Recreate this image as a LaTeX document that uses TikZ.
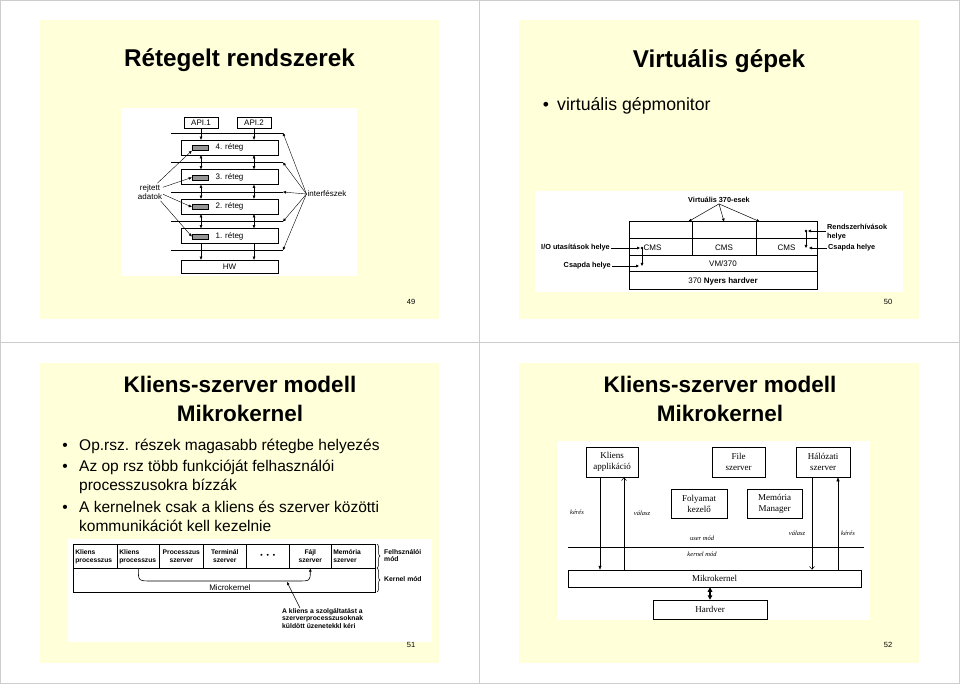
\documentclass[tikz,border=0pt]{standalone}
\usepackage{fontspec}
\setmainfont{Liberation Sans}
\newfontfamily\serifrm{Liberation Serif}
\usetikzlibrary{arrows.meta,positioning,decorations.pathreplacing}

\definecolor{slidebg}{RGB}{255,255,218}
\definecolor{pagerule}{RGB}{205,205,205}
\definecolor{hiddengray}{RGB}{150,150,150}
\newcommand{\fsz}[2]{\fontsize{#1}{#2}\selectfont}

\begin{document}
\begin{tikzpicture}[x=1pt,y=-1pt,
  >={Triangle[length=3pt,width=2.6pt]},
  slidetitle/.style={font=\fsz{24.3}{28}\bfseries,inner sep=0pt,anchor=base},
  bullettext/.style={font=\fsz{15.5}{19},inner sep=0pt,anchor=base west},
  bulletdot/.style={font=\fsz{15.5}{19},inner sep=0pt,anchor=base},
  pagenum/.style={font=\fsz{7.5}{9}},
  layerbox/.style={draw,line width=0.6pt,inner sep=0pt,font=\fsz{8}{10}},
  hiddenbox/.style={draw,line width=0.5pt,fill=hiddengray,minimum width=16,minimum height=5,inner sep=0pt},
  annot/.style={font=\fsz{8}{9.5},align=center,inner sep=1pt},
  vmcell/.style={draw,line width=1pt,inner sep=0pt,font=\fsz{8}{10}},
  vmlbl/.style={font=\fsz{7.3}{9}\bfseries,inner sep=1pt,align=left},
  ucell/.style={draw,line width=0.6pt,inner xsep=2pt,inner ysep=0pt,minimum height=24,anchor=north west,align=left,font=\fsz{6.7}{8}\bfseries},
  servbox/.style={draw,line width=0.5pt,inner sep=0pt,align=center,font=\serifrm\fsz{9}{11}},
  itlbl/.style={font=\serifrm\itshape\fsz{6.5}{8},inner sep=0pt},
  openarrow/.style={-{Straight Barb[length=3pt,width=5pt]}},
]
\useasboundingbox (0,0) rectangle (960,684);

% page grid
\draw[pagerule,line width=1pt] (0.5,0.5) rectangle (959.5,683.5);
\draw[pagerule,line width=1pt] (479,0) -- (479,684) (0,342) -- (960,342);

%%%%% slide 49
\fill[slidebg] (40,20) rectangle (439,319);
\node[slidetitle] (t49) at (239.5,67) {Rétegelt rendszerek};
\fill[white] (121,108) rectangle (357,276);

\node[layerbox,minimum width=34,minimum height=11] (api1) at (201,122.5) {API.1};
\node[layerbox,minimum width=34,minimum height=11] (api2) at (254,122.5) {API.2};
\foreach \i/\y in {4/147.5,3/177,2/206.5,1/236}{
  \node[layerbox,minimum width=97,minimum height=15] (l\i) at (229.5,\y) {\i. réteg};
  \node[hiddenbox] (g\i) at (200,\y+0.5) {};
}
\node[layerbox,minimum width=97,minimum height=13] (hw) at (229.5,266.5) {HW};

% interfaces
\foreach \k/\y in {5/133,4/162.5,3/192,2/221.5,1/250}{
  \coordinate (if\k) at (283,\y);
  \draw[line width=0.6pt] (171,\y) -- (if\k);
}
\foreach \a in {api1,api2}{
  \draw[->,line width=0.5pt] (\a) -- (l4.north -| \a);
  \draw[<->,line width=0.5pt] (l4.south -| \a) -- (l3.north -| \a);
  \draw[<->,line width=0.5pt] (l3.south -| \a) -- (l2.north -| \a);
  \draw[<->,line width=0.5pt] (l2.south -| \a) -- (l1.north -| \a);
  \draw[->,line width=0.5pt] (l1.south -| \a) -- (hw.north -| \a);
}

\node[annot] (rejt) at (150,192) {rejtett\\adatok};
\draw[->,line width=0.4pt] (rejt.50) -- (g4.south west);
\draw[->,line width=0.4pt] (rejt.20) -- (g3.west);
\draw[->,line width=0.4pt] (rejt.-10) -- (g2.west);
\draw[->,line width=0.4pt] (rejt.-40) -- (g1.west);

\node[annot] (intf) at (327,194) {interfészek};
\foreach \k in {1,...,5}
  \draw[->,line width=0.4pt] (intf.west) -- (if\k);

\node[pagenum] (n49) at (411,302) {49};

%%%%% slide 50
\fill[slidebg] (519,20) rectangle (919,319);
\node[slidetitle] (t50) at (719,67.5) {Virtuális gépek};
\node[bulletdot,font=\fsz{17.5}{21}] (d50) at (546,110.5) {•};
\node[bullettext,font=\fsz{17.7}{21}] (b50) at (557,110.5) {virtuális gépmonitor};
\fill[white] (535,191) rectangle (903,292);

\foreach \j/\x/\w in {1/660.5/63,2/724/64,3/786.5/61}
  \node[vmcell,minimum width=\w,minimum height=17] (v\j) at (\x,230.5) {};
\node[vmcell,minimum width=63,minimum height=17,label={[xshift=-8pt,font=\fsz{8}{10}]center:CMS}] (c1) at (660.5,247.5) {};
\node[vmcell,minimum width=64,minimum height=17] (c2) at (724,247.5) {CMS};
\node[vmcell,minimum width=61,minimum height=17] (c3) at (786.5,247.5) {CMS};
\node[vmcell,minimum width=188,minimum height=16] (vm) at (723,264) {VM/370};
\node[vmcell,minimum width=188,minimum height=18] (raw) at (723,281) {370 \textbf{Nyers hardver}};

\node[vmlbl] (virt) at (719,200) {Virtuális 370-esek};
\draw[->,line width=0.5pt] (virt.south) -- ([xshift=-4pt]v1.north east);
\draw[->,line width=0.5pt] (virt.south) -- (v2.north);
\draw[->,line width=0.5pt] (virt.south) -- ([xshift=4pt]v3.north west);

% trap points
\node[vmlbl,anchor=east] (io) at (611,248) {I/O utasítások helye};
\coordinate (dot1) at (642,248);
\coordinate (trap1) at (642,266);
\fill (dot1) circle (1.3);
\draw[->,line width=0.5pt] (io) -- ([xshift=-2pt]dot1);
\draw[->,line width=0.5pt] (dot1) -- (trap1);
\node[vmlbl,anchor=east] (cs1) at (612,266) {Csapda helye};
\draw[->,line width=0.5pt] (cs1) -- ([xshift=-3pt]trap1);

\node[vmlbl,anchor=west] (rh) at (826,232) {Rendszerhívások\\helye};
\coordinate (dot2) at (806,231);
\coordinate (trap2) at (806,248);
\fill (dot2) circle (1.3);
\draw[->,line width=0.5pt] (rh.west |- dot2) -- ([xshift=2pt]dot2);
\draw[->,line width=0.5pt] (dot2) -- (trap2);
\node[vmlbl,anchor=west] (cs2) at (827,248) {Csapda helye};
\draw[->,line width=0.5pt] (cs2) -- ([xshift=3pt]trap2);

\node[pagenum] (n50) at (888,302) {50};

%%%%% slide 51
\fill[slidebg] (40,363) rectangle (439,663);
\node[slidetitle,font=\fsz{22.5}{28}\bfseries] (t51a) at (240,392.7) {Kliens-szerver modell};
\node[slidetitle,font=\fsz{22.5}{28}\bfseries] (t51b) at (240,421.7) {Mikrokernel};
\foreach \y [count=\n] in {450,471,512.7}
  \node[bulletdot] (d51\n) at (65,\y) {•};
\foreach \y/\txt [count=\n] in {450/{Op.rsz. részek magasabb rétegbe helyezés},
    471/{Az op rsz több funkcióját felhasználói},
    490/{processzusokra bízzák},
    512.7/{A kernelnek csak a kliens és szerver közötti},
    531.7/{kommunikációt kell kezelnie}}
  \node[bullettext] (b51\n) at (79,\y) {\txt};

\fill[white] (68,539) rectangle (432,642);
\node[ucell,text width=40pt] (p1) at (73,544) {Kliens\\processzus};
\node[ucell,text width=38pt] (p2) at (117,544) {Kliens\\processzus};
\node[ucell,text width=40pt,align=center] (p3) at (159,544) {Processzus\\szerver};
\node[ucell,text width=39pt,align=center] (p4) at (203,544) {Terminál\\szerver};
\node[ucell,text width=39pt,align=center] (p5) at (246,544) {•\hspace{4pt}•\hspace{4pt}•};
\node[ucell,text width=38pt,align=center] (p6) at (289,544) {Fájl\\szerver};
\node[ucell,text width=40pt] (p7) at (331,544) {Memória\\szerver};
\node[draw,line width=0.6pt,minimum width=302,minimum height=24,anchor=north west,inner sep=0pt] (mk) at (73,568) {};
\node[font=\fsz{8}{10},anchor=base,inner sep=0pt] (mktxt) at (230,590) {Microkernel};

\coordinate (cl) at (152,581);
\coordinate (cr) at (297,581);
\draw[->,line width=0.6pt] (p2.south) .. controls (p2.south |- cl) .. (cl) -- (cr) .. controls (p6.south |- cr) .. (p6.south);

\node[font=\fsz{6.8}{7.6}\bfseries,align=left,anchor=north west,inner sep=0pt] (note) at (282,608)
  {A kliens a szolgáltatást a\\szerverprocesszusoknak\\küldött üzenetekkl kéri};
\coordinate (req) at (287,582);
\draw[->,line width=0.5pt] ([xshift=18pt]note.north west) -- (req);

\draw[decorate,decoration={brace,amplitude=3pt},line width=0.5pt] (377,544) -- (377,568);
\draw[decorate,decoration={brace,amplitude=3pt},line width=0.5pt] (377,568) -- (377,592);
\node[font=\fsz{6.8}{7.6}\bfseries,align=left,anchor=west,inner sep=0pt] (umode) at (384,555.5) {Felhsználói\\mód};
\node[font=\fsz{6.8}{7.6}\bfseries,anchor=west,inner sep=0pt] (kmode) at (384,579) {Kernel mód};

\node[pagenum] (n51) at (411,645) {51};

%%%%% slide 52
\fill[slidebg] (519,363) rectangle (919,663);
\node[slidetitle,font=\fsz{22.5}{28}\bfseries] (t52a) at (720,392.7) {Kliens-szerver modell};
\node[slidetitle,font=\fsz{22.5}{28}\bfseries] (t52b) at (720,421.7) {Mikrokernel};
\fill[white] (557,441) rectangle (870,620);

\node[servbox,minimum width=52,minimum height=30] (ka) at (612,462) {Kliens\\applikáció};
\node[servbox,minimum width=53,minimum height=30] (fs) at (738.5,462) {File\\szerver};
\node[servbox,minimum width=54,minimum height=30] (hs) at (823,462) {Hálózati\\szerver};
\node[servbox,minimum width=56,minimum height=29] (fk) at (699,503.5) {Folyamat\\kezelő};
\node[servbox,minimum width=55,minimum height=29] (mm) at (774.5,503.5) {Memória\\Manager};
\node[servbox,minimum width=293,minimum height=17] (mk2) at (714.5,578.5) {Mikrokernel};
\node[servbox,minimum width=114,minimum height=19] (hwb) at (710,609.5) {Hardver};

\draw[line width=0.5pt] (568,547) -- (864,547);
\node[itlbl] (um) at (702,538) {user mód};
\node[itlbl] (km) at (702,554) {kernel mód};

\draw[-{Triangle[length=4pt,width=3pt]},line width=0.5pt] ([xshift=-12pt]ka.south) -- ([xshift=-12pt]ka.south |- mk2.north);
\draw[openarrow,line width=0.5pt] ([xshift=12pt]ka.south |- mk2.north) -- ([xshift=12pt]ka.south);
\draw[openarrow,line width=0.5pt] ([xshift=-11pt]hs.south) -- ([xshift=-11pt]hs.south |- mk2.north);
\draw[-{Triangle[length=4pt,width=3pt]},line width=0.5pt] ([xshift=15pt]hs.south |- mk2.north) -- ([xshift=15pt]hs.south);
\draw[{Triangle[length=4.5pt,width=4.5pt]}-{Triangle[length=4.5pt,width=4.5pt]},line width=1.2pt] (mk2.south -| hwb.north) -- (hwb.north);

\node[itlbl] (k1) at (577,512) {kérés};
\node[itlbl] (v1l) at (642,513) {válasz};
\node[itlbl] (v2l) at (797,533) {válasz};
\node[itlbl] (k2) at (848,533) {kérés};

\node[pagenum] (n52) at (888,645) {52};
\end{tikzpicture}
\end{document}
